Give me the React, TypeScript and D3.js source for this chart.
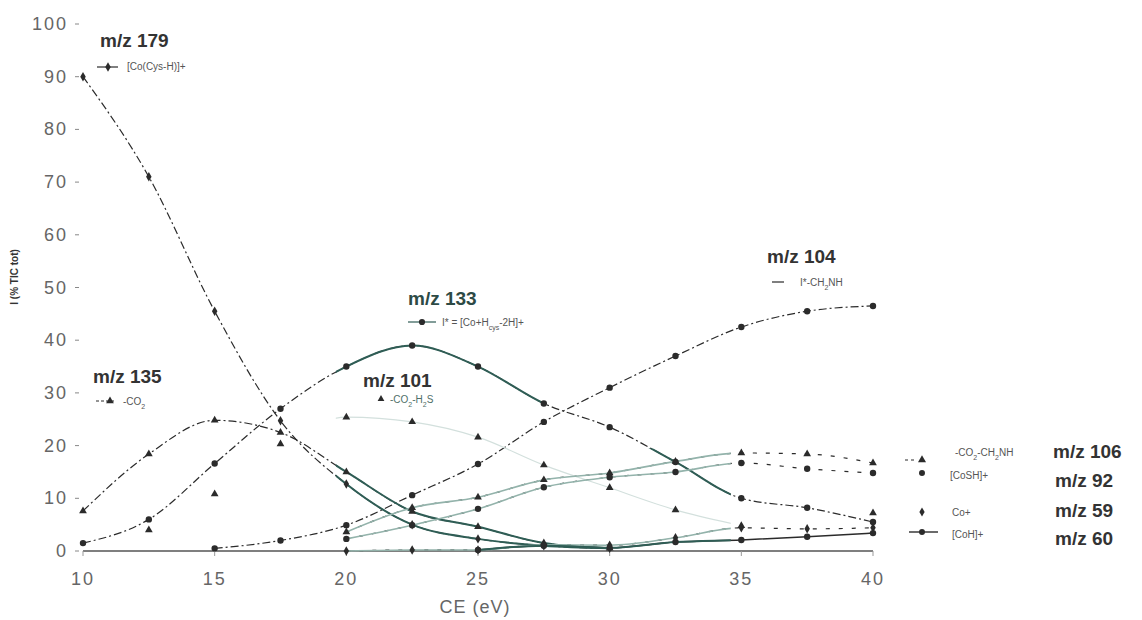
import React from 'react';
import * as d3 from 'd3';

// collision energy (eV)
const ce = [10, 12.5, 15, 17.5, 20, 22.5, 25, 27.5, 30, 32.5, 35, 37.5, 40];

// relative intensities (% TIC tot)
const mz179 = [90, 71, 45.5, 24.7, 12.7, 5, 2.3, 1, 0.5, null, null, null, null];
const mz135 = [7.6, 18.4, 24.8, 22.5, 15, 7.5, 4.6, 1.5, 0.5, null, null, null, null];
const mz133 = [1.5, 6, 16.6, 27, 35, 39, 35, 28, 23.5, 16.9, 10, 8.2, 5.5];
const mz101 = [null, 4, 10.8, 20.3, 25.4, 24.5, 21.6, 16.3, 12, 7.8, 4.8, null, 7.2];
const mz104 = [null, null, 0.5, 2, 4.9, 10.6, 16.5, 24.5, 31, 37, 42.5, 45.5, 46.5];
const mz106 = [null, null, null, null, 3.6, 8.2, 10.2, 13.5, 14.8, 17, 18.6, 18.4, 16.7];
const mz92 = [null, null, null, null, 2.3, 4.9, 8, 12.1, 14, 15, 16.7, 15.6, 14.8];
const mz59 = [null, null, null, null, 0, 0.2, 0.2, 1.2, 1.1, 2.5, 4.4, 4.2, 4.4];
const mz60 = [null, null, null, null, null, null, 0.2, 1, 0.6, 1.7, 2.1, 2.7, 3.4];

const yTicks = [0, 10, 20, 30, 40, 50, 60, 70, 80, 90, 100];
const xTicks = [10, 15, 20, 25, 30, 35, 40];

type Marker = 'circle' | 'triangle' | 'diamond';
interface Series {
  key: string;
  values: (number | null)[];
  marker: Marker;
  base: 'dash' | 'solid' | 'none' | 'sparse';
  overlay: 'dark' | 'light' | 'faint' | null;
}

const series: Series[] = [
  { key: '179', values: mz179, marker: 'diamond', base: 'dash', overlay: 'dark' },
  { key: '135', values: mz135, marker: 'triangle', base: 'dash', overlay: 'dark' },
  { key: '133', values: mz133, marker: 'circle', base: 'dash', overlay: 'dark' },
  { key: '101', values: mz101, marker: 'triangle', base: 'none', overlay: 'faint' },
  { key: '104', values: mz104, marker: 'circle', base: 'dash', overlay: null },
  { key: '106', values: mz106, marker: 'triangle', base: 'sparse', overlay: 'light' },
  { key: '92', values: mz92, marker: 'circle', base: 'sparse', overlay: 'light' },
  { key: '59', values: mz59, marker: 'diamond', base: 'sparse', overlay: 'light' },
  { key: '60', values: mz60, marker: 'circle', base: 'solid', overlay: 'dark' },
];

const W = 1142;
const H = 620;
const x = d3.scaleLinear().domain([10, 40]).range([83, 873]);
const y = d3.scaleLinear().domain([0, 100]).range([551, 24]);

const symType = (m: Marker) =>
  m === 'circle' ? d3.symbolCircle : m === 'triangle' ? d3.symbolTriangle : d3.symbolDiamond;

const sym = (m: Marker, size = 30) => d3.symbol().type(symType(m)).size(size)() as string;

const lineGen = d3
  .line<[number, number | null]>()
  .defined((d) => d[1] != null)
  .x((d) => x(d[0]))
  .y((d) => y(d[1] as number))
  .curve(d3.curveMonotoneX);

const dark = '#2b2b2b';
const tealDark = '#2f5d55';
const tealLight = '#93b3ab';
const tealFaint = '#d3e0dd';
const legendText = '#555';
const boldFont = '"Liberation Sans", Arial, sans-serif';

const overlayColor = { dark: tealDark, light: tealLight, faint: tealFaint };
const overlayWidth = { dark: 2, light: 1.6, faint: 1.2 };

const Sub: React.FC<{ children: React.ReactNode }> = ({ children }) => (
  <tspan baselineShift="sub" fontSize="7">{children}</tspan>
);

export default function App() {
  const pathFor = (s: Series) => lineGen(ce.map((c, i) => [c, s.values[i]] as [number, number | null])) || '';

  const r1 = { x0: x(19.6), x1: x(27.5), y0: y(41), y1: y(-2) };
  const r2 = { x0: x(27.5), x1: x(34.6), y0: y(19.5), y1: y(-2) };

  return (
    <svg width={W} height={H} style={{ position: 'absolute', left: 0, top: 0, background: '#fff' }}>
      <defs>
        <clipPath id="tint">
          <rect x={r1.x0} y={r1.y0} width={r1.x1 - r1.x0} height={r1.y1 - r1.y0} />
          <rect x={r2.x0} y={r2.y0} width={r2.x1 - r2.x0} height={r2.y1 - r2.y0} />
        </clipPath>
      </defs>

      {/* y axis ticks */}
      <g fontFamily={boldFont} fontSize={18} fill="#666" letterSpacing={2}>
        {yTicks.map((t) => (
          <g key={t}>
            <text x={68} y={y(t)} textAnchor="end" dominantBaseline="central">{t}</text>
            <line x1={75} x2={79} y1={y(t)} y2={y(t)} stroke="#888" strokeWidth={1} />
          </g>
        ))}
      </g>
      <text
        transform={`translate(18,${y(52)}) rotate(-90)`}
        textAnchor="middle"
        fontFamily={boldFont}
        fontSize={10}
        fontWeight="bold"
        fill="#333"
      >
        I (% TIC tot)
      </text>

      {/* x axis */}
      <line x1={x(10)} x2={x(40)} y1={y(0)} y2={y(0)} stroke="#555" strokeWidth={1.3} />
      <g fontFamily={boldFont} fontSize={18} fill="#666" letterSpacing={2}>
        {xTicks.map((t) => (
          <g key={t}>
            <line x1={x(t)} x2={x(t)} y1={y(0)} y2={y(0) + 5} stroke="#999" />
            <text x={x(t)} y={585} textAnchor="middle">{t}</text>
          </g>
        ))}
      </g>
      <text x={475} y={613} textAnchor="middle" fontFamily={boldFont} fontSize={18} fill="#666" letterSpacing={1}>
        CE (eV)
      </text>

      {/* base lines */}
      <g fill="none">
        {series.map((s) =>
          s.base === 'none' ? null : (
            <path
              key={'b' + s.key}
              d={pathFor(s)}
              stroke={dark}
              strokeWidth={s.base === 'solid' ? 1.5 : 1.2}
              strokeDasharray={s.base === 'dash' ? '8 3 2 3' : s.base === 'sparse' ? '4 9' : undefined}
            />
          )
        )}
      </g>
      {/* tinted segments (scan) */}
      <g fill="none" clipPath="url(#tint)">
        {series.map((s) =>
          s.overlay ? (
            <path
              key={'o' + s.key}
              d={pathFor(s)}
              stroke={overlayColor[s.overlay]}
              strokeWidth={overlayWidth[s.overlay]}
            />
          ) : null
        )}
      </g>

      {/* markers */}
      <g fill={dark}>
        {series.map((s) =>
          s.values.map((v, i) =>
            v == null ? null : (
              <path
                key={s.key + '-' + i}
                d={sym(s.marker, s.marker === 'circle' ? 32 : 26)}
                transform={`translate(${x(ce[i])},${y(v)})`}
              />
            )
          )
        )}
      </g>

      {/* annotations */}
      <g fontFamily={boldFont}>
        {/* m/z 179 */}
        <text x={100} y={47} fontSize={19} fontWeight="bold" fill="#333">m/z 179</text>
        <line x1={97} x2={118} y1={67} y2={67} stroke={dark} strokeWidth={1.2} />
        <path d={sym('diamond', 26)} transform="translate(108,67)" fill={dark} />
        <text x={127} y={70} fontSize={10} fill={legendText}>[Co(Cys-H)]+</text>

        {/* m/z 135 */}
        <text x={93} y={383} fontSize={19} fontWeight="bold" fill="#333">m/z 135</text>
        <line x1={96} x2={116} y1={401} y2={401} stroke={dark} strokeWidth={1} strokeDasharray="3 2" />
        <path d={sym('triangle', 26)} transform="translate(110,401)" fill={dark} />
        <text x={123} y={405} fontSize={10} fill={legendText}>-CO<Sub>2</Sub></text>

        {/* m/z 133 */}
        <text x={408} y={305} fontSize={19} fontWeight="bold" fill="#2d4a45">m/z 133</text>
        <line x1={408} x2={436} y1={322} y2={322} stroke={tealDark} strokeWidth={1.2} />
        <path d={sym('circle', 30)} transform="translate(422,322)" fill={dark} />
        <text x={442} y={326} fontSize={10} fill={legendText}>
          I* = [Co+H<Sub>cys</Sub>-2H]+
        </text>

        {/* m/z 101 */}
        <text x={363} y={387} fontSize={19} fontWeight="bold" fill="#333">m/z 101</text>
        <path d={sym('triangle', 20)} transform="translate(381,399)" fill={dark} />
        <text x={390} y={403} fontSize={10} fill="#4f6f69">-CO<Sub>2</Sub>-H<Sub>2</Sub>S</text>

        {/* m/z 104 */}
        <text x={767} y={263} fontSize={19} fontWeight="bold" fill="#333">m/z 104</text>
        <line x1={772} x2={784} y1={282} y2={282} stroke={dark} strokeWidth={1.2} />
        <text x={800} y={286} fontSize={10} fill={legendText}>I*-CH<Sub>2</Sub>NH</text>

        {/* right legend */}
        <line x1={905} x2={916} y1={460} y2={460} stroke={dark} strokeDasharray="3 3" />
        <path d={sym('triangle', 28)} transform="translate(922,460)" fill={dark} />
        <text x={955} y={456} fontSize={10} fill={legendText}>-CO<Sub>2</Sub>-CH<Sub>2</Sub>NH</text>
        <text x={1053} y={458} fontSize={19} fontWeight="bold" fill="#333">m/z 106</text>

        <path d={sym('circle', 28)} transform="translate(922,473)" fill={dark} />
        <text x={950} y={479} fontSize={10} fill={legendText}>[CoSH]+</text>
        <text x={1055} y={487} fontSize={19} fontWeight="bold" fill="#333">m/z 92</text>

        <path d={sym('diamond', 24)} transform="translate(922,512)" fill={dark} />
        <text x={952} y={516} fontSize={10} fill={legendText}>Co+</text>
        <text x={1055} y={517} fontSize={19} fontWeight="bold" fill="#333">m/z 59</text>

        <line x1={909} x2={938} y1={532} y2={532} stroke={dark} strokeWidth={1.4} />
        <path d={sym('circle', 28)} transform="translate(922,532)" fill={dark} />
        <text x={952} y={538} fontSize={10} fill={legendText}>[CoH]+</text>
        <text x={1055} y={545} fontSize={19} fontWeight="bold" fill="#333">m/z 60</text>
      </g>
    </svg>
  );
}
